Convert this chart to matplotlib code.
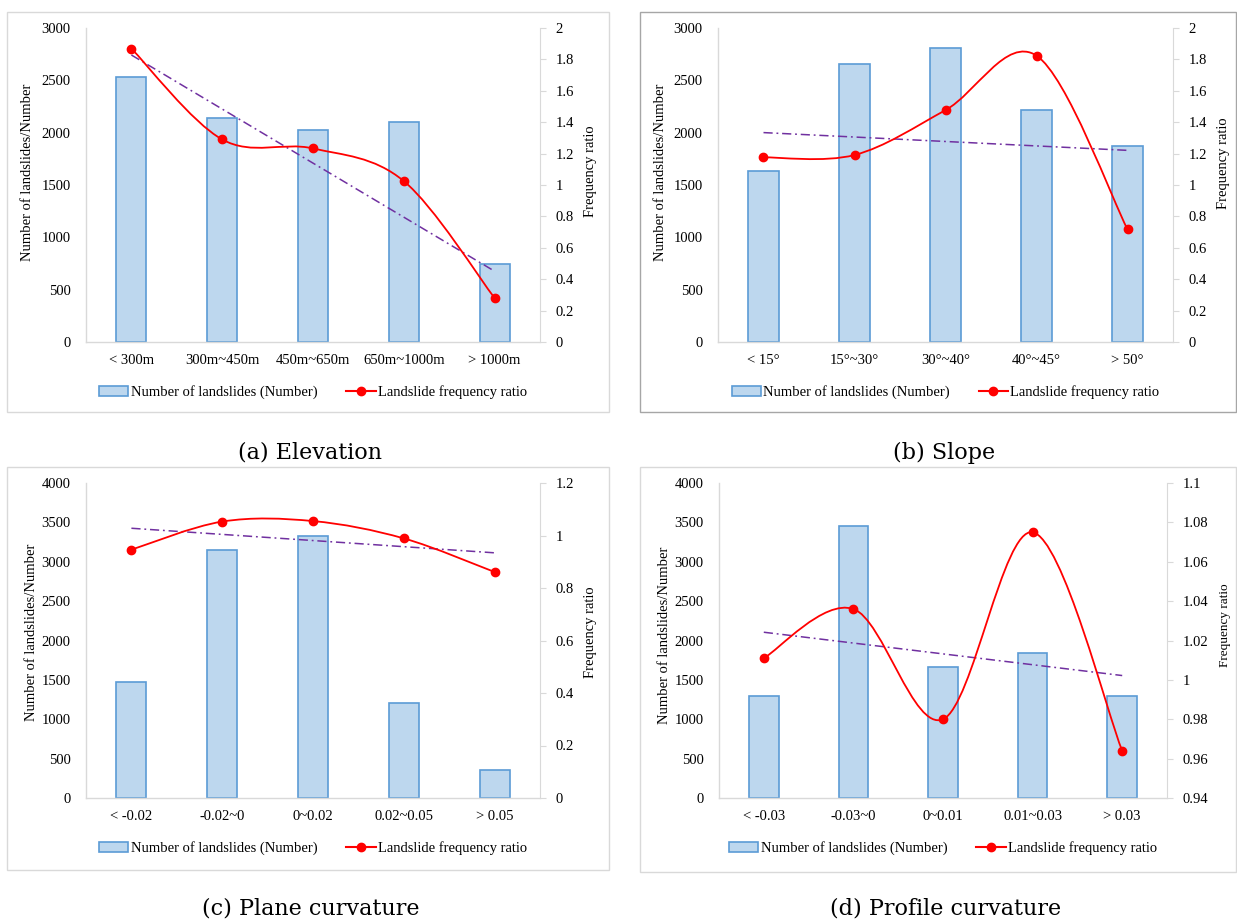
import numpy as np
import matplotlib
matplotlib.use('Agg')
from matplotlib import pyplot as plt
from matplotlib.path import Path
from matplotlib.patches import PathPatch, Rectangle, Patch
from matplotlib.lines import Line2D
from matplotlib.ticker import FuncFormatter

# values
elev_labels = ['< 300m', '300m~450m', '450m~650m', '650m~1000m', '> 1000m']
elev_counts = [2533, 2136, 2024, 2104, 744]
elev_fr = [1.869, 1.290, 1.233, 1.025, 0.280]

slope_labels = ['< 15°', '15°~30°', '30°~40°', '40°~45°', '> 50°']
slope_counts = [1630, 2654, 2813, 2212, 1872]
slope_fr = [1.176, 1.191, 1.477, 1.824, 0.718]

plane_labels = ['< -0.02', '-0.02~0', '0~0.02', '0.02~0.05', '> 0.05']
plane_counts = [1477, 3145, 3331, 1211, 360]
plane_fr = [0.946, 1.053, 1.055, 0.989, 0.861]

profile_labels = ['< -0.03', '-0.03~0', '0~0.01', '0.01~0.03', '> 0.03']
profile_counts = [1291, 3450, 1659, 1841, 1291]
profile_fr = [1.011, 1.036, 0.980, 1.075, 0.964]

W, H = 1237, 923
FONT = 'Liberation Serif'
GRID = '#D9D9D9'
BAR_FACE = '#BDD7EE'
BAR_EDGE = '#5B9BD5'

plt.rcParams['font.family'] = [FONT, 'DejaVu Serif']
plt.rcParams['font.size'] = 10.5


def px_box(l, t, r, b):
    return [l / W, 1 - b / H, (r - l) / W, (b - t) / H]


def smooth_path(x, y):
    # bezier through the points, like a spreadsheet "smoothed line"
    pts = np.column_stack([x, y]).astype(float)
    n = len(pts)
    verts = [pts[0]]
    codes = [Path.MOVETO]
    for i in range(n - 1):
        p0 = pts[max(i - 1, 0)]
        p1 = pts[i]
        p2 = pts[i + 1]
        p3 = pts[min(i + 2, n - 1)]
        verts += [p1 + (p2 - p0) / 6, p2 - (p3 - p1) / 6, p2]
        codes += [Path.CURVE4] * 3
    return Path(verts, codes)


def draw_panel(box, labels, counts, fr, ymax, ylim2, ticks2, lab_x, lab_y, rlab_size=10.5):
    ax = fig.add_axes(px_box(*box))
    x = np.arange(len(labels))
    ax.bar(x, counts, width=0.33, color=BAR_FACE, edgecolor=BAR_EDGE, linewidth=1.2, zorder=2)
    ax.set_xlim(-0.5, len(labels) - 0.5)
    ax.set_ylim(0, ymax)
    ax.set_yticks(np.arange(0, ymax + 1, 500))
    ax.set_xticks(x)
    ax.set_xticklabels(labels)
    ax.tick_params(axis='both', length=0)
    ax.tick_params(axis='y', pad=11)
    ax.tick_params(axis='x', pad=9)
    for s in ['top', 'right']:
        ax.spines[s].set_visible(False)
    for s in ['left', 'bottom']:
        ax.spines[s].set_color(GRID)
        ax.spines[s].set_linewidth(1.0)
    ax.set_ylabel('Number of landslides/Number')
    ax.yaxis.set_label_coords(lab_x[0], lab_y[0])

    ax2 = ax.twinx()
    ax2.set_ylim(*ylim2)
    ax2.set_yticks(ticks2)
    ax2.yaxis.set_major_formatter(FuncFormatter(lambda v, p: f'{round(v, 4):g}'))
    ax2.tick_params(axis='y', length=4, color=GRID, pad=7)
    for s in ['top', 'left', 'bottom']:
        ax2.spines[s].set_visible(False)
    ax2.spines['right'].set_color(GRID)
    ax2.set_ylabel('Frequency ratio', fontsize=rlab_size)
    ax2.yaxis.set_label_coords(lab_x[1], lab_y[1])

    # linear trend of the frequency ratio
    coef = np.polyfit(x, fr, 1)
    ax2.plot(x, np.polyval(coef, x), color='#7030A0', lw=1.1,
             linestyle=(0, (6, 2.5, 1.2, 2.5)), zorder=3)
    ax2.add_patch(PathPatch(smooth_path(x, fr), facecolor='none', edgecolor='#FF0000',
                            lw=1.3, zorder=4))
    ax2.plot(x, fr, linestyle='none', marker='o', color='#FF0000', markersize=6, zorder=5)

    handles = [Patch(facecolor=BAR_FACE, edgecolor=BAR_EDGE, linewidth=1.2),
               Line2D([], [], color='#FF0000', lw=1.5, marker='o', markersize=6)]
    ax.legend(handles, ['Number of landslides (Number)', 'Landslide frequency ratio'],
              loc='center', bbox_to_anchor=(0.5, -0.16), ncol=2, frameon=False,
              handlelength=2.0, handletextpad=0.15, columnspacing=2.0)
    return ax, ax2


fig = plt.figure(figsize=(W / 100, H / 100), dpi=100)

# panel frames
for (l, t, r, b), col in [((7, 12, 609, 412), '#D9D9D9'), ((640, 12, 1236, 412), '#A6A6A6'),
                          ((7, 467, 609, 870), '#D9D9D9'), ((640, 467, 1236, 872), '#D9D9D9')]:
    fig.add_artist(Rectangle((l / W, 1 - b / H), (r - l) / W, (b - t) / H,
                             transform=fig.transFigure, fill=False, edgecolor=col, lw=1.0))

draw_panel((86, 28, 540, 342), elev_labels, elev_counts, elev_fr, 3000, (0, 2),
           np.arange(0, 2.01, 0.2), (-0.114, 1.097), (0.54, 0.545))
draw_panel((718, 28, 1173, 342), slope_labels, slope_counts, slope_fr, 3000, (0, 2),
           np.arange(0, 2.01, 0.2), (-0.112, 1.097), (0.54, 0.57))
draw_panel((86, 483, 540, 798), plane_labels, plane_counts, plane_fr, 4000, (0, 1.2),
           np.arange(0, 1.21, 0.2), (-0.105, 1.097), (0.527, 0.527))
draw_panel((719, 483, 1167, 798), profile_labels, profile_counts, profile_fr, 4000, (0.94, 1.1),
           np.linspace(0.94, 1.1, 9), (-0.107, 1.117), (0.517, 0.55), rlab_size=9.5)

for txt, cx, cy in [('(a) Elevation', 310, 453), ('(b) Slope', 944, 453),
                    ('(c) Plane curvature', 311, 908), ('(d) Profile curvature', 946, 908)]:
    fig.text(cx / W, 1 - cy / H, txt, ha='center', va='center', fontsize=16, family='DejaVu Serif')

fig.savefig('out.png', dpi=100)
